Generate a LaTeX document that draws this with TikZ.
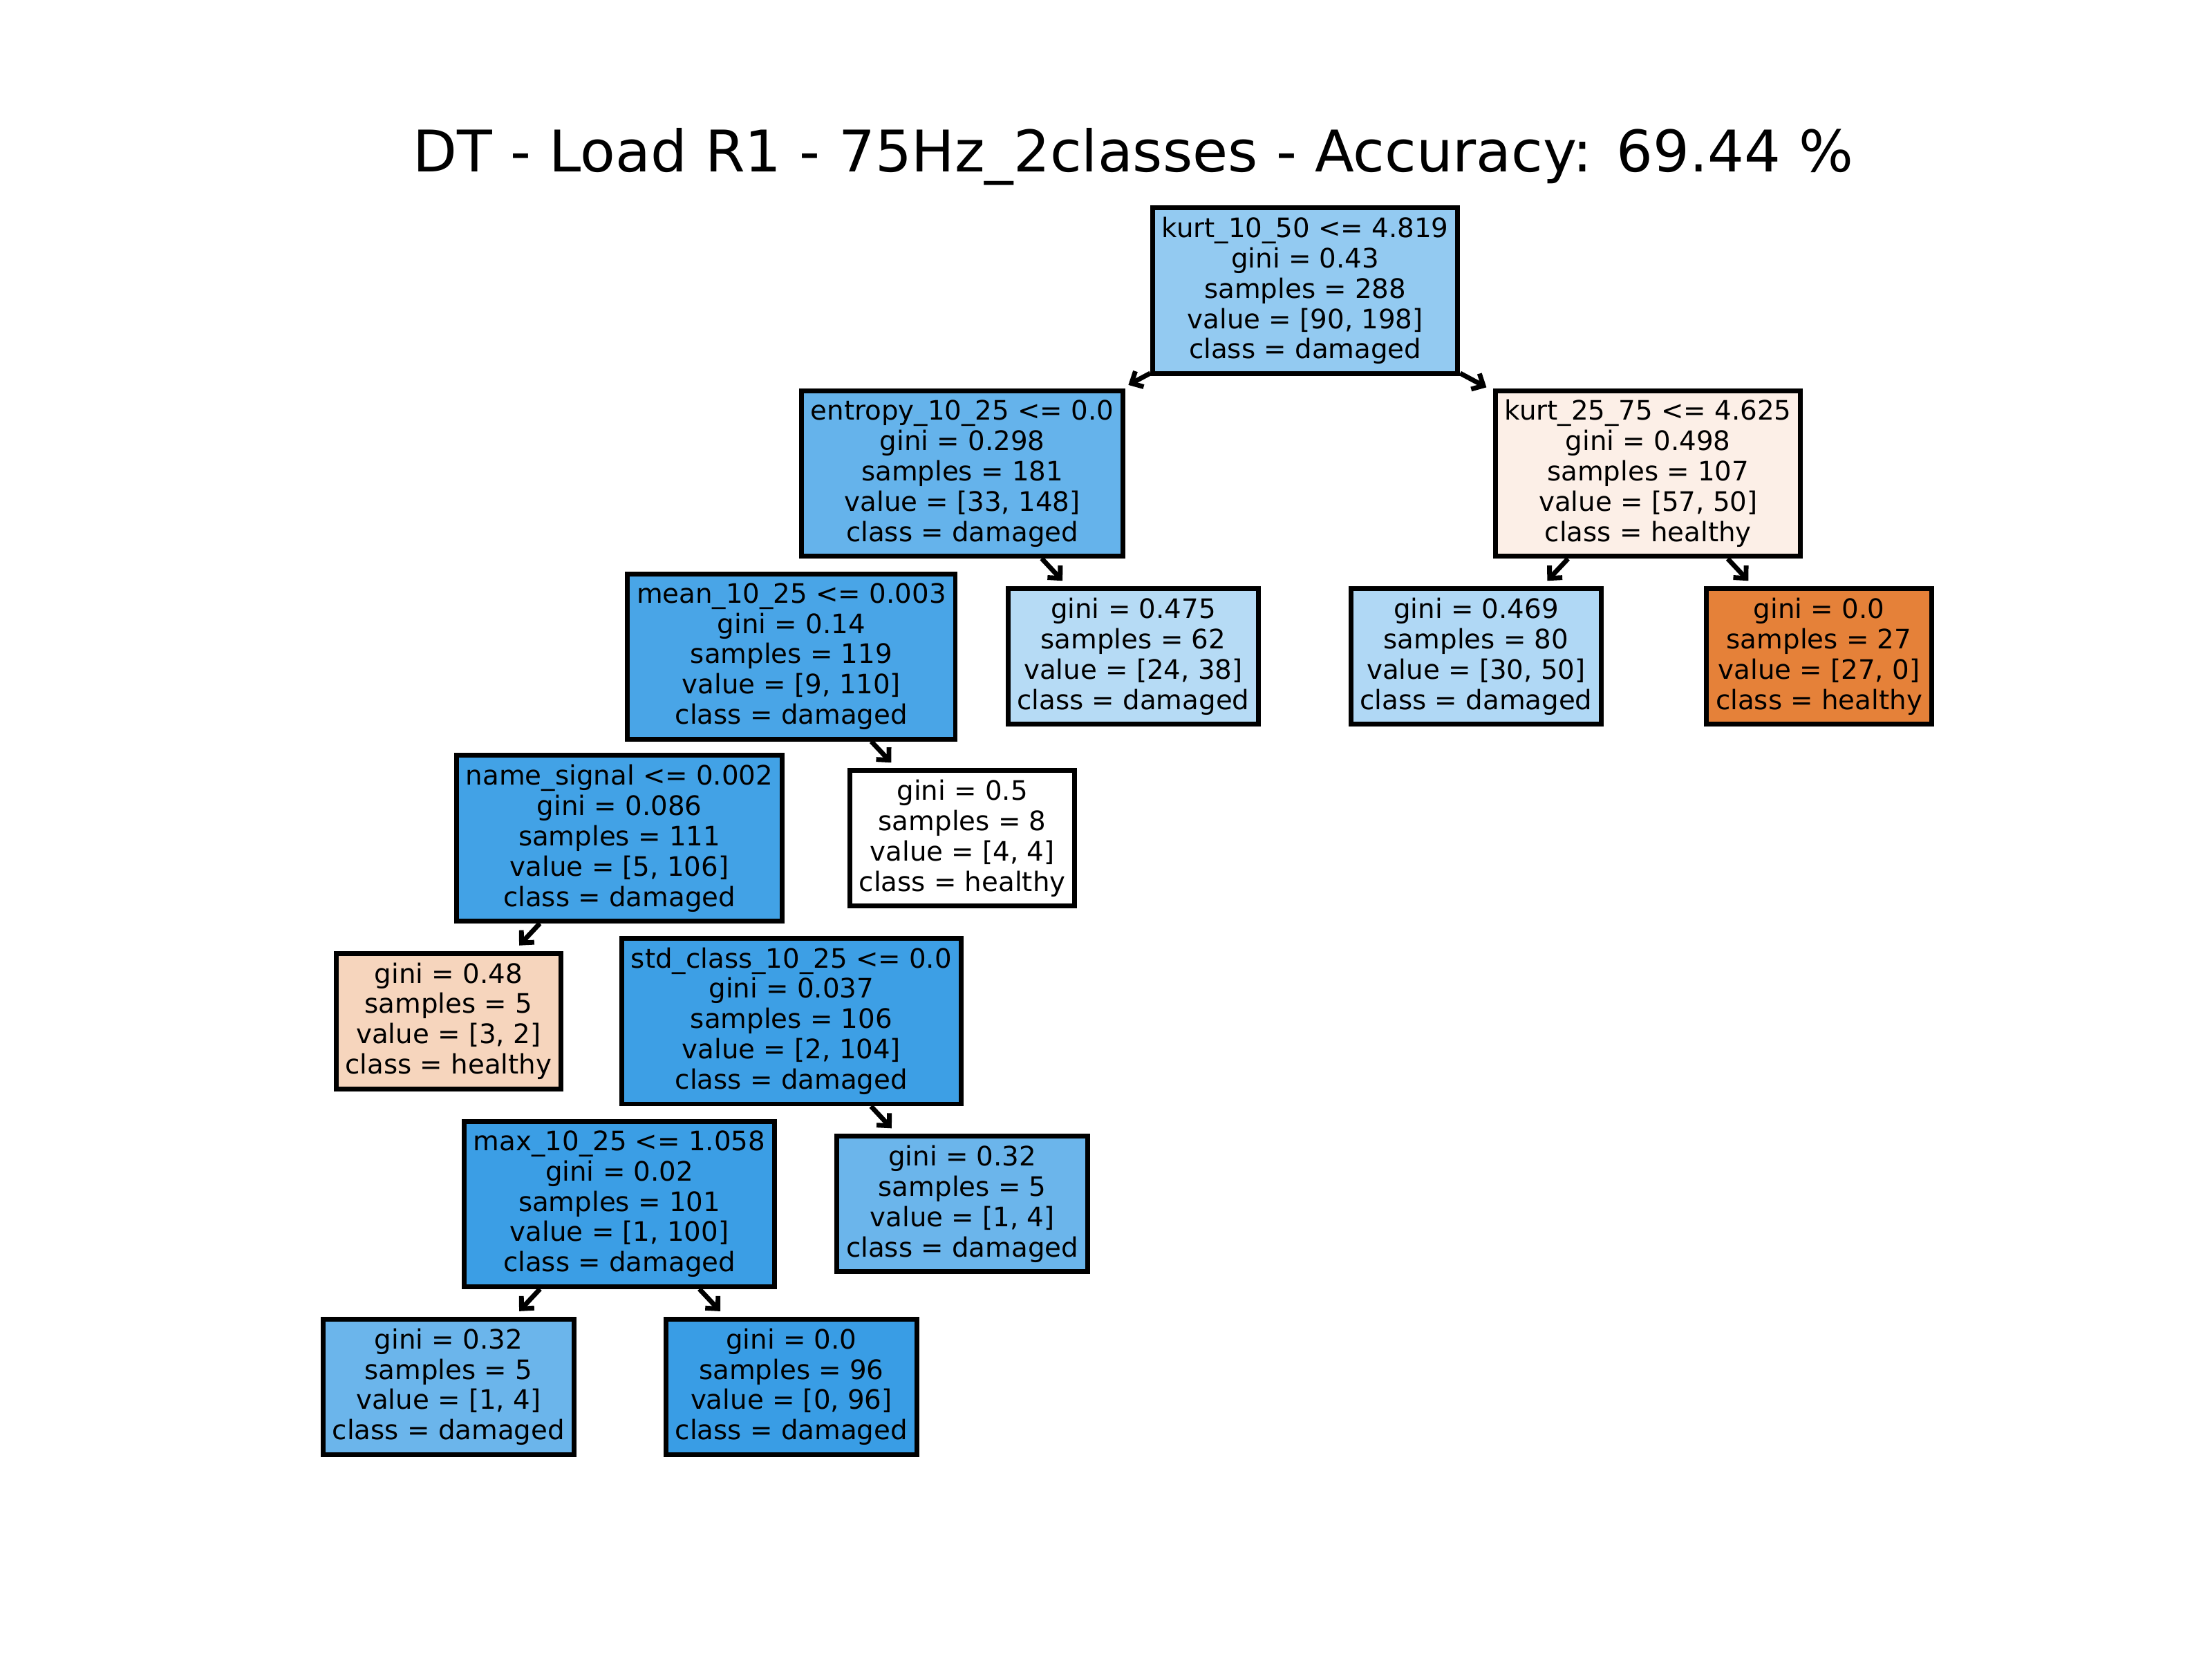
\documentclass[tikz,border=0pt]{standalone}
\usepackage{fontspec}
\setmainfont{DejaVu Sans}
\usepackage{tikz}
\usetikzlibrary{arrows.meta}
\usepackage{xcolor}
\definecolor{dtblue}{RGB}{57, 157, 229}
\definecolor{dtorange}{RGB}{229, 129, 57}
\tikzset{
    treebox/.style={rectangle, draw=black, line width=1.25pt, inner sep=2.4pt, align=center, font=\fontsize{7}{7.93}\selectfont},
    treearrow/.style={-{Straight Barb[length=2.4pt, width=4.6pt]}, line width=1.25pt, shorten >=2pt},
    plottitle/.style={font=\fontsize{15}{18}\selectfont, anchor=base}
}

\begin{document}
\begin{tikzpicture}
            \useasboundingbox (0,0) rectangle (20.32,-15.24);
            \node[plottitle] (title) at (10.41,-1.58) {DT - Load R1 - 75Hz\_2classes - Accuracy: 69.44 \%};

            % depth 0
            \node[treebox, fill=dtblue!54.5!white] (root) at (11.99,-2.67) {kurt\_10\_50 <= 4.819\\gini = 0.43\\samples = 288\\value = [90, 198]\\class = damaged};
            % depth 1
            \node[treebox, fill=dtblue!77.7!white] (entropy) at (8.84,-4.35) {entropy\_10\_25 <= 0.0\\gini = 0.298\\samples = 181\\value = [33, 148]\\class = damaged};
            \node[treebox, fill=dtorange!12.3!white] (kurt) at (15.14,-4.35) {kurt\_25\_75 <= 4.625\\gini = 0.498\\samples = 107\\value = [57, 50]\\class = healthy};
            % depth 2
            \node[treebox, fill=dtblue!91.8!white] (mean) at (7.27,-6.03) {mean\_10\_25 <= 0.003\\gini = 0.14\\samples = 119\\value = [9, 110]\\class = damaged};
            \node[treebox, fill=dtblue!36.8!white] (leafa) at (10.41,-6.03) {gini = 0.475\\samples = 62\\value = [24, 38]\\class = damaged};
            \node[treebox, fill=dtblue!40!white] (leafb) at (13.56,-6.03) {gini = 0.469\\samples = 80\\value = [30, 50]\\class = damaged};
            \node[treebox, fill=dtorange] (leafc) at (16.71,-6.03) {gini = 0.0\\samples = 27\\value = [27, 0]\\class = healthy};
            % depth 3
            \node[treebox, fill=dtblue!95.3!white] (signal) at (5.69,-7.70) {name\_signal <= 0.002\\gini = 0.086\\samples = 111\\value = [5, 106]\\class = damaged};
            \node[treebox, fill=white] (leafd) at (8.84,-7.70) {gini = 0.5\\samples = 8\\value = [4, 4]\\class = healthy};
            % depth 4
            \node[treebox, fill=dtorange!33.3!white] (leafe) at (4.12,-9.38) {gini = 0.48\\samples = 5\\value = [3, 2]\\class = healthy};
            \node[treebox, fill=dtblue!98.1!white] (std) at (7.27,-9.38) {std\_class\_10\_25 <= 0.0\\gini = 0.037\\samples = 106\\value = [2, 104]\\class = damaged};
            % depth 5
            \node[treebox, fill=dtblue!99!white] (max) at (5.69,-11.06) {max\_10\_25 <= 1.058\\gini = 0.02\\samples = 101\\value = [1, 100]\\class = damaged};
            \node[treebox, fill=dtblue!75!white] (leaff) at (8.84,-11.06) {gini = 0.32\\samples = 5\\value = [1, 4]\\class = damaged};
            % depth 6
            \node[treebox, fill=dtblue!75!white] (leafg) at (4.12,-12.74) {gini = 0.32\\samples = 5\\value = [1, 4]\\class = damaged};
            \node[treebox, fill=dtblue] (leafh) at (7.27,-12.74) {gini = 0.0\\samples = 96\\value = [0, 96]\\class = damaged};

            % edges (the near-vertical ones vanish between the boxes)
            \draw[treearrow] (root) -- (entropy);
            \draw[treearrow] (root) -- (kurt);
            \draw[treearrow] (entropy) -- (leafa);
            \draw[treearrow] (kurt) -- (leafb);
            \draw[treearrow] (kurt) -- (leafc);
            \draw[treearrow] (mean) -- (leafd);
            \draw[treearrow] (signal) -- (leafe);
            \draw[treearrow] (std) -- (leaff);
            \draw[treearrow] (max) -- (leafg);
            \draw[treearrow] (max) -- (leafh);
        \end{tikzpicture}
\end{document}
